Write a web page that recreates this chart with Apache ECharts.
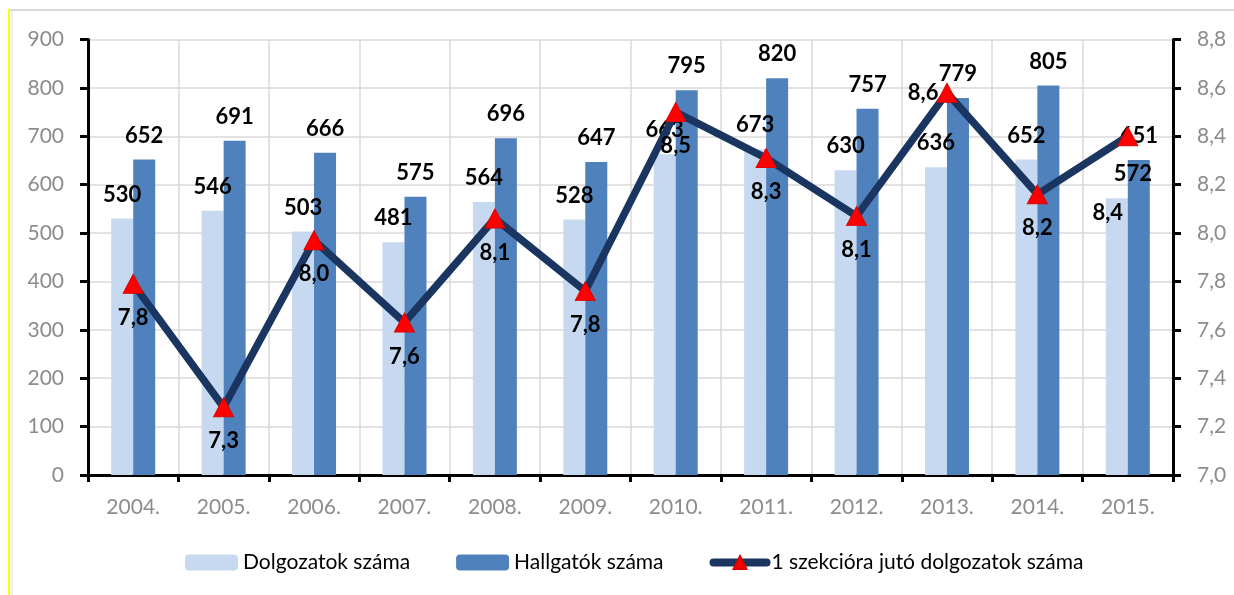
<!DOCTYPE html>
<html>
<head>
<meta charset="utf-8">
<script src="https://cdn.jsdelivr.net/npm/echarts@6/dist/echarts.min.js"></script>
<style>
html,body{margin:0;padding:0;background:#fff;}
#chart{width:1234px;height:595px;}
</style>
</head>
<body>
<div id="chart"></div>
<script>
const years = ['2004.','2005.','2006.','2007.','2008.','2009.','2010.','2011.','2012.','2013.','2014.','2015.'];
const dolgozatok = [530, 546, 503, 481, 564, 528, 663, 673, 630, 636, 652, 572];
const hallgatok = [652, 691, 666, 575, 696, 647, 795, 820, 757, 779, 805, 651];
const perSection = [7.79, 7.28, 7.97, 7.63, 8.06, 7.76, 8.50, 8.31, 8.07, 8.58, 8.16, 8.40];
const seriesNames = ['Dolgozatok száma', 'Hallgatók száma', '1 szekcióra jutó dolgozatok száma'];

const FONT = 'Lato';
const fmtComma = v => Number(v).toFixed(1).replace('.', ',');

// label placement tweaks (style only)
const barLabelTweaks = { 11: { offset: [16, 0] } };
const lineLabelTweaks = { 9: { position: 'left', distance: -2 }, 11: { offset: [-20, 43] } };

const chart = echarts.init(document.getElementById('chart'), null, { renderer: 'canvas' });

const labelStyle = { show: true, color: '#000', fontFamily: FONT, fontWeight: 'bold', fontSize: 22 };

chart.setOption({
  animation: false,
  backgroundColor: '#fff',
  graphic: [
    { type: 'line', shape: { x1: 9, y1: 10, x2: 1234, y2: 10 }, style: { stroke: '#d9d9d9', lineWidth: 2 } },
    { type: 'line', shape: { x1: 12, y1: 11, x2: 12, y2: 595 }, style: { stroke: '#e0e0e0', lineWidth: 1 } },
    { type: 'line', shape: { x1: 9, y1: 9, x2: 9, y2: 595 }, style: { stroke: '#ffff00', lineWidth: 2 } }
  ],
  grid: { left: 88, right: 61, top: 39.5, bottom: 120 },
  legend: {
    bottom: 22,
    left: 185,
    padding: 0,
    itemWidth: 53,
    itemHeight: 16,
    itemGap: 46,
    textStyle: { fontFamily: FONT, fontSize: 21, color: '#000' },
    data: [
      { name: seriesNames[0] },
      { name: seriesNames[1] },
      { name: seriesNames[2], lineStyle: { width: 8, cap: 'round' } }
    ]
  },
  xAxis: {
    type: 'category',
    data: years,
    axisLine: { lineStyle: { color: '#000', width: 3 } },
    axisTick: { show: true, length: 7, lineStyle: { color: '#000', width: 3 } },
    axisLabel: { color: '#8c8c8c', fontFamily: FONT, fontSize: 21, margin: 22 },
    splitLine: { show: true, lineStyle: { color: '#d9d9d9', width: 1.5 } }
  },
  yAxis: [
    {
      type: 'value', min: 0, max: 900, interval: 100,
      axisLine: { show: true, lineStyle: { color: '#000', width: 3 } },
      axisTick: { show: true, length: 8, lineStyle: { color: '#000', width: 3 } },
      axisLabel: { color: '#8c8c8c', fontFamily: FONT, fontSize: 21, margin: 24 },
      splitLine: { show: true, lineStyle: { color: '#d9d9d9', width: 1.5 } }
    },
    {
      type: 'value', min: 7.0, max: 8.8, interval: 0.2,
      axisLine: { show: true, lineStyle: { color: '#000', width: 3 } },
      axisTick: { show: true, length: 8, lineStyle: { color: '#000', width: 3 } },
      axisLabel: { color: '#8c8c8c', fontFamily: FONT, fontSize: 21, margin: 24, formatter: fmtComma },
      splitLine: { show: false }
    }
  ],
  series: [
    {
      name: seriesNames[0], type: 'bar', yAxisIndex: 0,
      barWidth: 22, barGap: '0%',
      itemStyle: { color: '#c6d9f0' },
      label: Object.assign({ position: 'top', distance: 13 }, labelStyle),
      data: dolgozatok.map((v, i) => barLabelTweaks[i] ? { value: v, label: barLabelTweaks[i] } : v)
    },
    {
      name: seriesNames[1], type: 'bar', yAxisIndex: 0,
      barWidth: 22, barGap: '0%',
      itemStyle: { color: '#4f81bd' },
      label: Object.assign({ position: 'top', distance: 13 }, labelStyle),
      data: hallgatok
    },
    {
      name: seriesNames[2], type: 'line', yAxisIndex: 1,
      symbol: 'triangle', symbolSize: [20, 19],
      lineStyle: { color: '#1a3660', width: 7.5, cap: 'round' },
      itemStyle: { color: '#ff0000', borderColor: '#e00000', borderWidth: 1 },
      label: Object.assign({ position: 'bottom', distance: 13, formatter: p => fmtComma(p.value) }, labelStyle),
      data: perSection.map((v, i) => lineLabelTweaks[i] ? { value: v, label: lineLabelTweaks[i] } : v),
      z: 5
    }
  ]
});
</script>
</body>
</html>
